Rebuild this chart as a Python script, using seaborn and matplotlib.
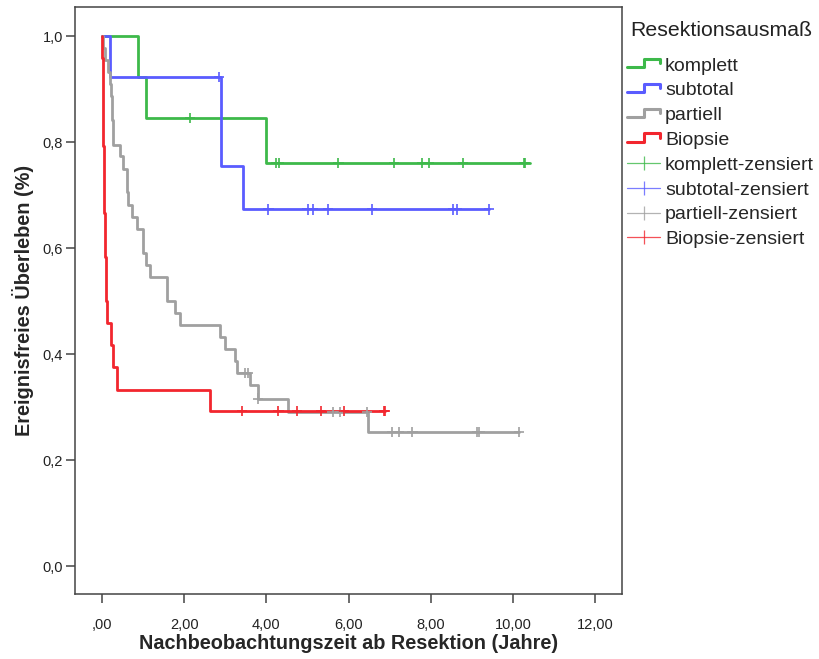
import numpy as np
import matplotlib
matplotlib.use('Agg')
import matplotlib.pyplot as plt
import pandas as pd
import seaborn as sns
from matplotlib.lines import Line2D
from matplotlib.legend_handler import HandlerBase

sns.set_style('white')
plt.rcParams['font.family'] = ['Liberation Sans', 'DejaVu Sans']

# Kaplan-Meier steps (time in years, survival after the step)
groups = ['komplett', 'subtotal', 'partiell', 'Biopsie']

komplett_t = [0.0, 0.88, 1.06, 4.00, 10.40]
komplett_s = [1.0, 0.923, 0.846, 0.761, 0.761]
komplett_cens = [2.14, 4.23, 4.31, 5.75, 7.10, 7.78, 7.96, 8.79, 10.26, 10.29]

subtotal_t = [0.0, 0.19, 2.89, 3.42, 9.42]
subtotal_s = [1.0, 0.923, 0.755, 0.673, 0.673]
subtotal_cens = [2.85, 4.05, 5.00, 5.13, 5.49, 6.56, 8.53, 8.63, 9.42]

partiell_t = [0.0, 0.03, 0.07, 0.15, 0.19, 0.22, 0.24, 0.25, 0.26, 0.27,
              0.45, 0.50, 0.60, 0.62, 0.64, 0.72, 0.86, 0.99, 1.06, 1.17,
              1.57, 1.78, 1.90, 2.87, 2.99, 3.24, 3.28, 3.60, 3.80, 4.53,
              6.48, 10.15]
partiell_s = [1.0, 0.977, 0.955, 0.932, 0.909, 0.886, 0.864, 0.841, 0.818, 0.795,
              0.773, 0.750, 0.727, 0.705, 0.682, 0.659, 0.636, 0.591, 0.568, 0.545,
              0.500, 0.477, 0.455, 0.432, 0.409, 0.386, 0.364, 0.342, 0.316, 0.291,
              0.253, 0.253]
partiell_cens = [3.47, 3.55, 3.80, 5.61, 5.79, 6.44, 7.05, 7.23, 7.55, 9.13, 9.18, 10.15]

biopsie_t = [0.0, 0.01, 0.015, 0.02, 0.025, 0.03, 0.055, 0.057, 0.06, 0.062,
             0.065, 0.09, 0.092, 0.115, 0.21, 0.26, 0.36, 2.63, 6.88]
biopsie_s = [1.0, 0.958, 0.917, 0.875, 0.833, 0.792, 0.750, 0.708, 0.667, 0.625,
             0.583, 0.542, 0.500, 0.458, 0.417, 0.375, 0.333, 0.292, 0.292]
biopsie_cens = [3.40, 4.29, 4.75, 5.32, 5.89, 6.86, 6.88]

colors = {'komplett': '#3DB94A', 'subtotal': '#5A5CFF',
          'partiell': '#A0A0A0', 'Biopsie': '#F2262E'}

y_ticks = [0.0, 0.2, 0.4, 0.6, 0.8, 1.0]
y_tick_labels = ['0,0', '0,2', '0,4', '0,6', '0,8', '1,0']
x_ticks = [0, 2, 4, 6, 8, 10, 12]
x_tick_labels = [',00', '2,00', '4,00', '6,00', '8,00', '10,00', '12,00']

steps = {'komplett': (komplett_t, komplett_s, komplett_cens),
         'subtotal': (subtotal_t, subtotal_s, subtotal_cens),
         'partiell': (partiell_t, partiell_s, partiell_cens),
         'Biopsie': (biopsie_t, biopsie_s, biopsie_cens)}

curve_rows = []
cens_rows = []
for g in groups:
    t, s, c = steps[g]
    for ti, si in zip(t, s):
        curve_rows.append((g, ti, si))
    t_arr = np.array(t)
    for ci in c:
        idx = np.searchsorted(t_arr, ci, side='right') - 1
        cens_rows.append((g, ci, s[idx]))
curves = pd.DataFrame(curve_rows, columns=['group', 't', 's'])
cens = pd.DataFrame(cens_rows, columns=['group', 't', 's'])

fig = plt.figure(figsize=(8.19, 6.59), dpi=100)
ax = fig.add_axes([0.0912, 0.0986, 0.6683, 0.8907])

sns.lineplot(data=curves, x='t', y='s', hue='group', hue_order=groups,
             palette=colors, estimator=None, sort=False, drawstyle='steps-post',
             lw=2, legend=False, ax=ax)
sns.scatterplot(data=cens, x='t', y='s', hue='group', hue_order=groups,
                palette=colors, marker='+', s=55, linewidth=1.2,
                legend=False, ax=ax, zorder=3)

ax.set_xlim(-0.664, 12.65)
ax.set_ylim(-0.0528, 1.0547)
ax.set_xticks(x_ticks)
ax.set_xticklabels(x_tick_labels)
ax.set_yticks(y_ticks)
ax.set_yticklabels(y_tick_labels)
for sp in ax.spines.values():
    sp.set_color('#444444')
    sp.set_linewidth(1.1)
ax.tick_params(axis='both', direction='out', length=6.5, width=1.1,
               color='#444444', labelsize=10.5, labelcolor='#222222',
               bottom=True, left=True)
ax.tick_params(axis='x', pad=11)
ax.tick_params(axis='y', pad=2)
ax.set_xlabel('Nachbeobachtungszeit ab Resektion (Jahre)', fontsize=14.3,
              fontweight='bold', labelpad=1)
ax.set_ylabel('Ereignisfreies Überleben (%)', fontsize=14.3,
              fontweight='bold', labelpad=6)


class StepHandler(HandlerBase):
    def create_artists(self, legend, orig_handle, xdescent, ydescent,
                       width, height, fontsize, trans):
        x0 = -xdescent
        y_lo = -ydescent + height * 0.25
        y_hi = -ydescent + height * 0.85
        xs = [x0, x0 + width * 0.5, x0 + width * 0.5, x0 + width, x0 + width]
        ys = [y_lo, y_lo, y_hi, y_hi, y_hi - height * 0.3]
        line = Line2D(xs, ys, color=orig_handle.get_color(),
                      lw=orig_handle.get_linewidth(), transform=trans)
        return [line]


step_handles = [Line2D([], [], color=colors[g], lw=2.2) for g in groups]
cens_handles = [Line2D([], [], color=colors[g], lw=0.9, alpha=0.8,
                       marker='|', markersize=10, markeredgewidth=0.9)
                for g in groups]
labels = groups + [g + '-zensiert' for g in groups]
handler_map = {h: StepHandler() for h in step_handles}

fig.text(630 / 819, 1 - 30 / 659, 'Resektionsausmaß', fontsize=15.3,
         ha='left', va='center', color='#222222')
leg = fig.legend(step_handles + cens_handles, labels, handler_map=handler_map,
                 loc='upper left', bbox_to_anchor=(627 / 819, 1 - 57 / 659),
                 frameon=False, fontsize=14, handlelength=1.7,
                 handletextpad=0.26, labelspacing=0.37, borderaxespad=0,
                 borderpad=0, numpoints=1)

fig.savefig('out.png', dpi=100)
